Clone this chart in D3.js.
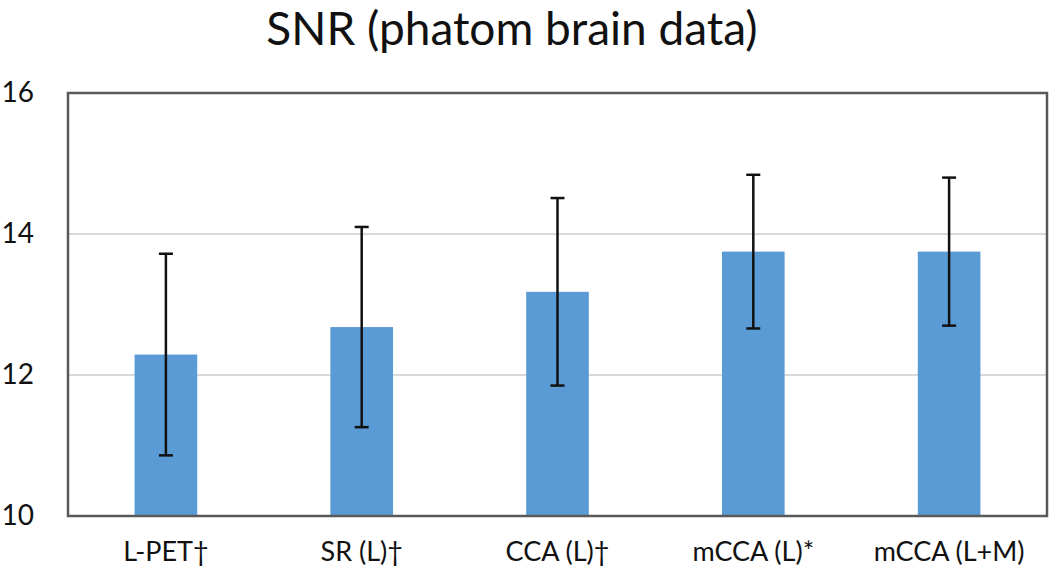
<body style="margin:0;background:#fff">
<script src="https://d3js.org/d3.v7.min.js"></script>
<script>
  var categories = ["L-PET\u2020", "SR (L)\u2020", "CCA (L)\u2020", "mCCA (L)*", "mCCA (L+M)"];
  var snr = [12.29, 12.68, 13.18, 13.75, 13.75];
  var snrErr = [1.43, 1.42, 1.33, 1.09, 1.05];
  var yTicks = [10, 12, 14, 16];

  var W = 1050, H = 579;
  var margin = {top: 93, right: 3, bottom: 63, left: 68};
  var width = W - margin.left - margin.right,
      height = H - margin.top - margin.bottom;

  var svg = d3.select("body").append("svg")
      .attr("width", W)
      .attr("height", H)
      .style("font-family", "Lato, 'Open Sans', sans-serif");

  svg.append("text")
      .attr("x", 512)
      .attr("y", 45)
      .attr("text-anchor", "middle")
      .attr("font-size", "46px")
      .attr("fill", "#111")
      .text("SNR (phatom brain data)");

  var g = svg.append("g")
      .attr("transform", "translate(" + margin.left + "," + margin.top + ")");

  var x = d3.scaleBand().domain(categories).range([0, width]).paddingInner(0.68).paddingOuter(0.34);
  var y = d3.scaleLinear().domain([10, 16]).range([height, 0]);

  // gridlines
  g.append("g").selectAll("line")
      .data(yTicks.filter(d => d > 10 && d < 16))
    .enter().append("line")
      .attr("x1", 0).attr("x2", width)
      .attr("y1", d => y(d)).attr("y2", d => y(d))
      .attr("stroke", "#d9d9d9")
      .attr("stroke-width", 2);

  // bars
  g.append("g").selectAll("rect")
      .data(categories)
    .enter().append("rect")
      .attr("x", d => x(d))
      .attr("width", x.bandwidth())
      .attr("y", (d, i) => y(snr[i]))
      .attr("height", (d, i) => height - y(snr[i]))
      .attr("fill", "#5b9bd5");

  // error bars
  var eb = g.append("g").selectAll("g")
      .data(categories)
    .enter().append("g")
      .attr("stroke", "#111")
      .attr("stroke-width", 2.5);
  eb.append("line")
      .attr("x1", d => x(d) + x.bandwidth() / 2)
      .attr("x2", d => x(d) + x.bandwidth() / 2)
      .attr("y1", (d, i) => y(snr[i] + snrErr[i]))
      .attr("y2", (d, i) => y(snr[i] - snrErr[i]));
  [1, -1].forEach(function(s) {
    eb.append("line")
        .attr("x1", d => x(d) + x.bandwidth() / 2 - 7)
        .attr("x2", d => x(d) + x.bandwidth() / 2 + 7)
        .attr("y1", (d, i) => y(snr[i] + s * snrErr[i]))
        .attr("y2", (d, i) => y(snr[i] + s * snrErr[i]));
  });

  // frame
  g.append("rect")
      .attr("width", width).attr("height", height)
      .attr("fill", "none")
      .attr("stroke", "#595959")
      .attr("stroke-width", 2.5);

  // y axis labels
  var yAxis = d3.axisLeft(y).tickValues(yTicks).tickSize(0).tickPadding(34).tickFormat(d3.format("d"));
  g.append("g").call(yAxis)
      .call(s => s.select(".domain").remove())
      .selectAll("text")
      .attr("font-size", "28px")
      .attr("font-family", "Lato, sans-serif")
      .attr("fill", "#111");

  // x axis labels
  var xAxis = d3.axisBottom(x).tickSize(0).tickPadding(26);
  g.append("g").attr("transform", "translate(0," + height + ")").call(xAxis)
      .call(s => s.select(".domain").remove())
      .selectAll("text")
      .attr("font-size", "27px")
      .attr("font-family", "Lato, sans-serif")
      .attr("fill", "#111");
</script>
</body>
